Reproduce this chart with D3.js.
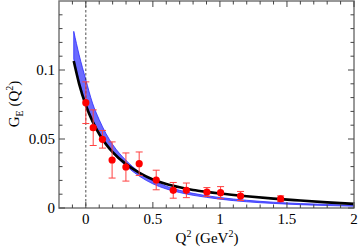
<!DOCTYPE html>
<html><head><meta charset="utf-8">
<script src="https://cdn.jsdelivr.net/npm/d3@7"></script>
<style>body{margin:0;background:#fff}svg{display:block}text{font-family:"Liberation Serif","Times New Roman",serif;fill:#000}</style>
</head><body><svg id="c" width="360" height="247"></svg>
<script>
// data
const dataQ2   = [0, 0.055, 0.124, 0.196, 0.299, 0.398, 0.525, 0.652, 0.75, 0.903, 1.005, 1.154, 1.453];
const dataGE   = [0.0763, 0.0582, 0.0498, 0.0348, 0.0297, 0.0321, 0.0203, 0.0128, 0.0128, 0.0116, 0.0111, 0.0087, 0.0067];
const dataErr  = [0.0151, 0.0129, 0.0064, 0.0131, 0.0102, 0.0085, 0.0071, 0.0057, 0.0053, 0.0032, 0.0044, 0.0033, 0.0021];

const curveQ2  = [-0.09, -0.05, 0, 0.05, 0.1, 0.15, 0.2, 0.3, 0.4, 0.5, 0.6, 0.7, 0.8, 0.9, 1.0, 1.2, 1.4, 1.6, 1.8, 2.0];
const blackGE  = [0.1065, 0.0900, 0.0745, 0.0628, 0.0536, 0.0463, 0.0405, 0.0318, 0.0255, 0.0207, 0.0174, 0.0150, 0.0131, 0.0117, 0.0105, 0.0085, 0.0068, 0.0054, 0.0041, 0.0030];
const bandLow  = [0.108, 0.092, 0.076, 0.064, 0.054, 0.046, 0.040, 0.0305, 0.023, 0.0175, 0.0138, 0.0112, 0.0092, 0.0077, 0.0064, 0.0045, 0.0033, 0.0024, 0.0018, 0.0013];
const bandHigh = [0.128, 0.111, 0.093, 0.076, 0.064, 0.054, 0.046, 0.0345, 0.026, 0.0200, 0.0158, 0.0128, 0.0106, 0.0089, 0.0076, 0.0056, 0.0042, 0.0032, 0.0026, 0.0020];

const xMajor = [0, 0.5, 1, 1.5, 2];
const xMajorLabels = ["0", "0.5", "1", "1.5", "2"];
const yMajor = [0, 0.05, 0.1];
const yMajorLabels = ["0", "0.05", "0.1"];

const svg = d3.select("#c");
const L = 59, R = 354, T = 1, B = 208;
const x = d3.scaleLinear().domain([-0.2, 2]).range([L, R]);
const y = d3.scaleLinear().domain([0, 0.15]).range([B, T]);

const xMinor = d3.range(-0.1, 2.0001, 0.1).map(v => +v.toFixed(2)).filter(v => !xMajor.includes(v));
const yMinor = d3.range(0.01, 0.15, 0.01).map(v => +v.toFixed(3)).filter(v => !yMajor.some(m => Math.abs(m - v) < 1e-6));

// band
const band = curveQ2.map((q, i) => ({q, lo: bandLow[i], hi: bandHigh[i]}));
svg.append("path").datum(band)
  .attr("d", d3.area().x(d => x(d.q)).y0(d => y(d.lo)).y1(d => y(d.hi)).curve(d3.curveMonotoneX))
  .attr("fill", "#6b6bff").attr("stroke", "#2a2aff").attr("stroke-width", 0.8);

// dashed zero line
svg.append("line").attr("x1", x(0)).attr("x2", x(0)).attr("y1", T).attr("y2", B)
  .attr("stroke", "#222").attr("stroke-width", 0.8).attr("stroke-dasharray", "2.5,2");

// black curve
const black = curveQ2.map((q, i) => ({q, v: blackGE[i]}));
svg.append("path").datum(black)
  .attr("d", d3.line().x(d => x(d.q)).y(d => y(d.v)).curve(d3.curveMonotoneX))
  .attr("fill", "none").attr("stroke", "#000").attr("stroke-width", 2.6);

// error bars and points
const pts = dataQ2.map((q, i) => ({q, v: dataGE[i], e: dataErr[i]}));
const eb = svg.append("g").attr("stroke", "#ff4040").attr("stroke-width", 1);
pts.forEach(d => {
  eb.append("line").attr("x1", x(d.q)).attr("x2", x(d.q)).attr("y1", y(d.v - d.e)).attr("y2", y(d.v + d.e));
  [d.v - d.e, d.v + d.e].forEach(v => eb.append("line").attr("x1", x(d.q) - 3.5).attr("x2", x(d.q) + 3.5).attr("y1", y(v)).attr("y2", y(v)));
});
svg.append("g").selectAll("circle").data(pts).join("circle")
  .attr("cx", d => x(d.q)).attr("cy", d => y(d.v)).attr("r", 3.6).attr("fill", "#ff0000");

// frame
svg.append("rect").attr("x", L).attr("y", T).attr("width", R - L).attr("height", B - T)
  .attr("fill", "none").attr("stroke", "#777").attr("stroke-width", 1.5);

// ticks (inward, all four sides)
const tk = svg.append("g").attr("stroke", "#444").attr("stroke-width", 1);
xMajor.forEach(v => {
  tk.append("line").attr("x1", x(v)).attr("x2", x(v)).attr("y1", B).attr("y2", B - 6);
  tk.append("line").attr("x1", x(v)).attr("x2", x(v)).attr("y1", T).attr("y2", T + 6);
});
xMinor.forEach(v => {
  tk.append("line").attr("x1", x(v)).attr("x2", x(v)).attr("y1", B).attr("y2", B - 3.5);
  tk.append("line").attr("x1", x(v)).attr("x2", x(v)).attr("y1", T).attr("y2", T + 3.5);
});
yMajor.forEach(v => {
  tk.append("line").attr("y1", y(v)).attr("y2", y(v)).attr("x1", L).attr("x2", L + 6);
  tk.append("line").attr("y1", y(v)).attr("y2", y(v)).attr("x1", R).attr("x2", R - 6);
});
yMinor.forEach(v => {
  tk.append("line").attr("y1", y(v)).attr("y2", y(v)).attr("x1", L).attr("x2", L + 3.5);
  tk.append("line").attr("y1", y(v)).attr("y2", y(v)).attr("x1", R).attr("x2", R - 3.5);
});

// tick labels
svg.append("g").selectAll("text").data(xMajor).join("text")
  .attr("x", d => x(d)).attr("y", 224).attr("text-anchor", "middle").attr("font-size", 15)
  .text((d, i) => xMajorLabels[i]);
svg.append("g").selectAll("text").data(yMajor).join("text")
  .attr("x", 55).attr("y", d => y(d) + 5).attr("text-anchor", "end").attr("font-size", 15)
  .text((d, i) => yMajorLabels[i]);

// axis titles
const xt = svg.append("text").attr("x", 207).attr("y", 243).attr("text-anchor", "middle").attr("font-size", 15);
xt.append("tspan").text("Q");
xt.append("tspan").attr("font-size", 10).attr("dy", -6).text("2");
xt.append("tspan").attr("dy", 6).text(" (GeV");
xt.append("tspan").attr("font-size", 10).attr("dy", -6).text("2");
xt.append("tspan").attr("dy", 6).text(")");

const yt = svg.append("text").attr("transform", "translate(19,104) rotate(-90)").attr("text-anchor", "middle").attr("font-size", 15);
yt.append("tspan").text("G");
yt.append("tspan").attr("font-size", 10).attr("dy", 4).text("E");
yt.append("tspan").attr("dy", -4).text(" (Q");
yt.append("tspan").attr("font-size", 10).attr("dy", -6).text("2");
yt.append("tspan").attr("dy", 6).text(")");
</script></body></html>
